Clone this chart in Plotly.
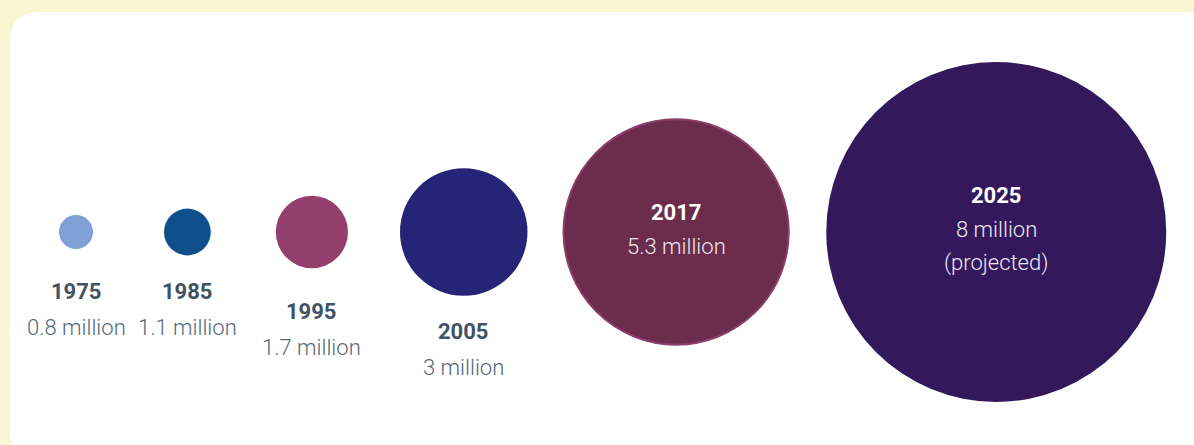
import plotly.graph_objects as go

# ---- data ----
years = ["1975", "1985", "1995", "2005", "2017", "2025"]
values = [0.8, 1.1, 1.7, 3.0, 5.3, 8.0]
value_labels = ["0.8 million", "1.1 million", "1.7 million", "3 million", "5.3 million", "8 million"]
notes = ["", "", "", "", "", "(projected)"]
colors = ["#7FA0D5", "#0F4F8C", "#93406D", "#262477", "#6C2C4B", "#33185B"]
inside = [False, False, False, False, True, True]

# ---- layout constants ----
W, H = 1194, 445
PX_PER_MILLION = 21.25          # radius in px per million
gaps = [71, 65, 52, 36, 37.5]   # edge-to-edge spacing between circles
first_left = 59
center_y = 232
below_rows = [0, 0, 1, 2]       # stepped label rows for outside labels
BG = "#FAF6D4"
YEAR_COL = "#3F5364"
VAL_COL = "#55687A"
FONT = "Roboto"

radii = [v * PX_PER_MILLION for v in values]
xs = []
left = first_left
for i, r in enumerate(radii):
    xs.append(left + r)
    if i < len(gaps):
        left = left + 2 * r + gaps[i]

fig = go.Figure()

# white rounded panel
x0, y0, x1, y1, rr = 10, 12, 1212, 462, 30
path = (f"M {x0+rr},{y0} L {x1-rr},{y0} Q {x1},{y0} {x1},{y0+rr} L {x1},{y1-rr} "
        f"Q {x1},{y1} {x1-rr},{y1} L {x0+rr},{y1} Q {x0},{y1} {x0},{y1-rr} "
        f"L {x0},{y0+rr} Q {x0},{y0} {x0+rr},{y0} Z")
fig.add_shape(type="path", path=path, xref="x", yref="y",
              fillcolor="white", line=dict(width=0), layer="below")

line_w = [0, 0, 0, 0, 2, 0]
line_c = ["rgba(0,0,0,0)"] * 4 + ["#8C3E6B", "rgba(0,0,0,0)"]
fig.add_trace(go.Scatter(
    x=xs, y=[center_y] * len(xs), mode="markers",
    marker=dict(size=[2 * r for r in radii], sizemode="diameter",
                color=colors, opacity=1,
                line=dict(width=line_w, color=line_c)),
    hoverinfo="skip", showlegend=False))

annotations = []
row_i = 0
for i, y in enumerate(years):
    if not inside[i]:
        yy = 291 + 20 * below_rows[row_i]
        row_i += 1
        annotations.append(dict(x=xs[i], y=yy, text=f"<b>{y}</b>", showarrow=False,
                                font=dict(family=FONT, size=22, color=YEAR_COL),
                                xanchor="center", yanchor="middle"))
        annotations.append(dict(x=xs[i], y=yy + 36, text=value_labels[i], showarrow=False,
                                font=dict(family=FONT, size=22, color=VAL_COL, weight=300),
                                xanchor="center", yanchor="middle"))
    else:
        lines = [value_labels[i]] + ([notes[i]] if notes[i] else [])
        n = 1 + len(lines)
        step = 34
        top = center_y - 3 - step * (n - 1) / 2
        annotations.append(dict(x=xs[i], y=top, text=f"<b>{y}</b>", showarrow=False,
                                font=dict(family=FONT, size=22, color="white"),
                                xanchor="center", yanchor="middle"))
        for j, t in enumerate(lines):
            annotations.append(dict(x=xs[i], y=top + step * (j + 1), text=t, showarrow=False,
                                    font=dict(family=FONT, size=22, color="#EEE8F2", weight=300),
                                    xanchor="center", yanchor="middle"))

fig.update_layout(
    width=W, height=H,
    margin=dict(l=0, r=0, t=0, b=0),
    paper_bgcolor=BG, plot_bgcolor=BG,
    xaxis=dict(range=[0, W], visible=False, fixedrange=True),
    yaxis=dict(range=[H, 0], visible=False, fixedrange=True),
    annotations=annotations,
    showlegend=False,
)

fig.write_html("out.html", config={"displayModeBar": False},
               post_script="document.body.style.margin='0';document.body.style.overflow='hidden';")
